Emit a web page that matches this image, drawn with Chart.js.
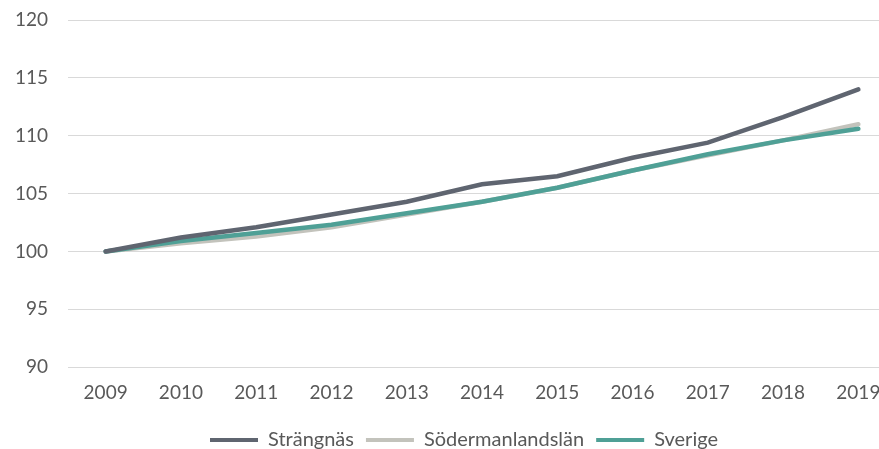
<!DOCTYPE html>
<html>
<head>
<meta charset="utf-8">
<script src="https://cdn.jsdelivr.net/npm/chart.js@4.4.0/dist/chart.umd.min.js"></script>
<style>
html,body{margin:0;padding:0;background:#fff;overflow:hidden;width:879px;height:449px;}
#wrap{position:absolute;left:0;top:0;width:920px;height:456px;}
</style>
</head>
<body>
<div id="wrap"><canvas id="c" width="920" height="456"></canvas></div>
<script>
const years = ['2009','2010','2011','2012','2013','2014','2015','2016','2017','2018','2019'];
const strangnas = [100, 101.2, 102.1, 103.2, 104.3, 105.8, 106.5, 108.1, 109.4, 111.6, 114.0];
const sodermanland = [100, 100.7, 101.3, 102.1, 103.2, 104.3, 105.5, 107.0, 108.3, 109.6, 111.0];
const sverige = [100, 100.9, 101.6, 102.3, 103.3, 104.3, 105.5, 107.0, 108.4, 109.6, 110.6];
const seriesNames = ['Strängnäs', 'Södermanlandslän', 'Sverige'];
const colors = ['#5f6570', '#c3c3bc', '#4fa096'];

const FONT = 'Lato, "Open Sans", sans-serif';
const mk = (label, data, color) => ({
  label, data, borderColor: color, backgroundColor: color,
  borderWidth: 4.5, pointRadius: 0, tension: 0, fill: false, borderCapStyle: 'round'
});

const shiftLegend = {
  id: 'shiftLegend',
  afterLayout(chart) {
    const lg = chart.legend;
    if (lg) { lg.left += 16; lg.right += 16; }
  }
};

new Chart(document.getElementById('c'), {
  type: 'line',
  data: {
    labels: years,
    datasets: [
      mk(seriesNames[0], strangnas, colors[0]),
      mk(seriesNames[2], sverige, colors[2]),
      mk(seriesNames[1], sodermanland, colors[1])
    ]
  },
  plugins: [shiftLegend],
  options: {
    responsive: false,
    animation: false,
    layout: { padding: { left: 0, right: 24, top: 20, bottom: -4 } },
    plugins: {
      tooltip: { enabled: false },
      legend: {
        position: 'bottom',
        labels: {
          font: { family: FONT, size: 20 },
          color: '#595959',
          boxWidth: 48,
          boxHeight: 4,
          padding: 12,
          generateLabels: (chart) => {
            const order = [0, 2, 1];
            return order.map(i => {
              const ds = chart.data.datasets[i];
              return { text: ds.label, fillStyle: ds.borderColor, strokeStyle: ds.borderColor, lineWidth: 0, datasetIndex: i, hidden: false, fontColor: '#595959' };
            });
          }
        }
      }
    },
    scales: {
      x: {
        offset: true,
        grid: { display: false, drawTicks: false },
        border: { display: false },
        ticks: { font: { family: FONT, size: 19 }, color: '#595959', padding: 14, maxRotation: 0 }
      },
      y: {
        min: 90, max: 120,
        afterFit: (s) => { s.width = 68; s.paddingTop = 0; s.paddingBottom = 0; },
        grid: { color: '#d9d9d9', lineWidth: 1, drawTicks: false },
        border: { display: false },
        ticks: { stepSize: 5, font: { family: FONT, size: 19 }, color: '#595959', padding: 20 }
      }
    }
  }
});
</script>
</body>
</html>
